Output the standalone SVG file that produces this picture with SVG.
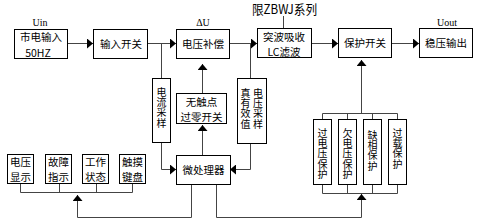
<svg xmlns="http://www.w3.org/2000/svg" width="489" height="224" viewBox="0 0 489 224">
<defs>
<marker id="ah" viewBox="0 0 6 10" refX="6" refY="5" markerWidth="6" markerHeight="10" markerUnits="userSpaceOnUse" orient="auto">
<path d="M0,0 L6,5 L0,10 z" fill="#000"/>
</marker>
<style>
.box{fill:#fff;stroke:#000;stroke-width:1}
.t{font-family:"Noto Sans CJK SC","Noto Sans",sans-serif;font-size:10.5px;fill:#000;text-anchor:middle}
.v{font-family:"Noto Sans CJK SC","Noto Sans",sans-serif;font-size:10px;fill:#000;writing-mode:vertical-rl;text-anchor:start;letter-spacing:0.3px}
.lbl{font-family:"Liberation Serif",serif;font-size:10px;fill:#000;text-anchor:middle}
.c{fill:none;stroke:#444;stroke-width:1}
.a{fill:none;stroke:#444;stroke-width:1;marker-end:url(#ah)}
</style>
</defs>
<rect width="489" height="224" fill="#fff"/>

<g id="labels">
<text class="lbl" x="40" y="26">Uin</text>
<text class="lbl" x="203" y="26">ΔU</text>
<text class="lbl" x="447" y="26">Uout</text>
<text x="252" y="14" textLength="65" lengthAdjust="spacingAndGlyphs" style="font-family:'Noto Sans CJK SC','Noto Sans',sans-serif;font-size:13px;fill:#000">限ZBWJ系列</text>
</g>

<g id="connectors">
<path class="a" d="M67,43.5 H93"/>
<path class="a" d="M147,43.5 H176"/>
<path class="c" d="M161.5,43.5 V78"/>
<path class="a" d="M229,43.5 H257"/>
<path class="c" d="M250.5,43.5 V78"/>
<path class="c" d="M283.5,16 V28"/>
<path class="a" d="M311,43.5 H338"/>
<path class="a" d="M391,43.5 H419"/>
<path class="a" d="M202.5,93 V64"/>
<path class="a" d="M202.5,155 V125"/>
<path class="a" d="M161.5,142 V169.5 H176"/>
<path class="a" d="M250.5,143 V169.5 H230"/>
<path class="a" d="M191.5,184 V217.5 H77.5 V195"/>
<path class="c" d="M20.5,183 V192.5 H132.5 V183 M59.5,183 V192.5 M96.5,183 V192.5"/>
<path class="a" d="M216.5,184 V217.5 H361.5 V194"/>
<path class="c" d="M322.5,184 V193.5 H397.5 V184 M347.5,184 V193.5 M372.5,184 V193.5"/>
<path class="c" d="M322.5,119 V113.5 H397.5 V119 M347.5,119 V113.5 M372.5,119 V113.5"/>
<path class="a" d="M361.5,113.5 V60"/>
</g>

<g id="n-mains">
<rect class="box" x="14.5" y="29.5" width="53" height="29"/>
<text class="t" x="41" y="41">市电输入</text>
<text class="t" x="38" y="57">50HZ</text>
</g>
<g id="n-inswitch">
<rect class="box" x="93.5" y="29.5" width="54" height="29"/>
<text class="t" x="121" y="47.5">输入开关</text>
</g>
<g id="n-comp">
<rect class="box" x="176.5" y="29.5" width="53" height="29"/>
<text class="t" x="203" y="47.5">电压补偿</text>
</g>
<g id="n-surge">
<rect class="box" x="257.5" y="28.5" width="54" height="29"/>
<text class="t" x="284" y="41">突波吸收</text>
<text class="t" x="284" y="55.5">LC滤波</text>
</g>
<g id="n-protsw">
<rect class="box" x="338.5" y="28.5" width="53" height="29"/>
<text class="t" x="365" y="47">保护开关</text>
</g>
<g id="n-out">
<rect class="box" x="419.5" y="28.5" width="53" height="29"/>
<text class="t" x="446" y="47">稳压输出</text>
</g>
<g id="n-cursample">
<rect class="box" x="152.5" y="78.5" width="18" height="64"/>
<text class="v" x="161.5" y="87">电流采样</text>
</g>
<g id="n-zero">
<rect class="box" x="176.5" y="93.5" width="50" height="30"/>
<text class="t" x="201.5" y="106">无触点</text>
<text class="t" x="201.5" y="121">过零开关</text>
</g>
<g id="n-voltsample">
<rect class="box" x="237.5" y="78.5" width="29" height="65"/>
<text class="v" x="258" y="88">电压采样</text>
<text class="v" x="245.5" y="88">真有效值</text>
</g>
<g id="n-mcu">
<rect class="box" x="176.5" y="155.5" width="54" height="29"/>
<text class="t" x="203.5" y="173.5">微处理器</text>
</g>
<g id="n-vdisp">
<rect class="box" x="7.5" y="154.5" width="26" height="29"/>
<text class="t" x="20.5" y="166">电压</text>
<text class="t" x="20.5" y="181">显示</text>
</g>
<g id="n-fault">
<rect class="box" x="45.5" y="154.5" width="26" height="29"/>
<text class="t" x="58.5" y="166">故障</text>
<text class="t" x="58.5" y="181">指示</text>
</g>
<g id="n-state">
<rect class="box" x="82.5" y="154.5" width="26" height="29"/>
<text class="t" x="95.5" y="166">工作</text>
<text class="t" x="95.5" y="181">状态</text>
</g>
<g id="n-keys">
<rect class="box" x="119.5" y="154.5" width="26" height="29"/>
<text class="t" x="132.5" y="166">触摸</text>
<text class="t" x="132.5" y="181">键盘</text>
</g>
<g id="n-ov">
<rect class="box" x="313.5" y="119.5" width="18" height="65"/>
<text class="v" x="322.5" y="128">过电压保护</text>
</g>
<g id="n-uv">
<rect class="box" x="338.5" y="119.5" width="18" height="65"/>
<text class="v" x="347.5" y="128">欠电压保护</text>
</g>
<g id="n-phase">
<rect class="box" x="363.5" y="119.5" width="18" height="65"/>
<text class="v" x="372.5" y="130">缺相保护</text>
</g>
<g id="n-overload">
<rect class="box" x="388.5" y="119.5" width="18" height="65"/>
<text class="v" x="397.5" y="128">过载保护</text>
</g>
</svg>
